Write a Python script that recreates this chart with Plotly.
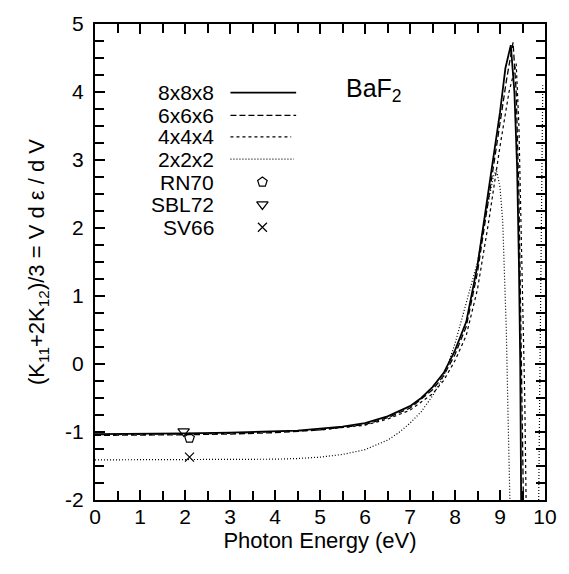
import plotly.graph_objects as go

# ---------------- data ----------------
x_888 = [0, 1, 2, 3, 4, 4.5, 5, 5.5, 6, 6.5, 7, 7.25, 7.5, 7.75, 8, 8.25, 8.5, 8.75, 9.0, 9.12, 9.24, 9.32, 9.38, 9.42, 9.45, 9.47]
y_888 = [-1.03, -1.03, -1.02, -1.01, -0.99, -0.98, -0.95, -0.92, -0.87, -0.77, -0.62, -0.5, -0.34, -0.13, 0.2, 0.62, 1.45, 2.6, 3.7, 4.35, 4.69, 4.0, 2.9, 1.5, 0.0, -2.0]

x_666 = [0, 1, 2, 3, 4, 5, 6, 6.5, 7, 7.5, 7.75, 8, 8.25, 8.5, 8.75, 9.0, 9.15, 9.29, 9.36, 9.42, 9.47, 9.52]
y_666 = [-1.05, -1.05, -1.04, -1.03, -1.01, -0.97, -0.89, -0.79, -0.65, -0.38, -0.17, 0.14, 0.55, 1.35, 2.45, 3.55, 4.2, 4.73, 4.0, 2.5, 0.5, -2.0]

x_444 = [0, 1, 2, 3, 4, 5, 6, 6.5, 7, 7.5, 7.75, 8, 8.25, 8.5, 8.75, 9.0, 9.2, 9.36, 9.42, 9.5, 9.55, 9.58]
y_444 = [-1.04, -1.04, -1.03, -1.02, -1.0, -0.97, -0.9, -0.81, -0.68, -0.44, -0.24, 0.05, 0.42, 1.1, 2.1, 3.2, 4.0, 4.42, 3.5, 1.0, -0.5, -2.0]

x_222 = [0, 1, 2, 3, 4, 4.5, 5, 5.5, 6, 6.5, 6.75, 7, 7.25, 7.5, 7.75, 8, 8.25, 8.5, 8.7, 8.85, 8.92, 9.0, 9.06, 9.1, 9.14, 9.18, 9.22,
         None, 9.86, 9.9, 9.95]
y_222 = [-1.41, -1.41, -1.41, -1.40, -1.40, -1.39, -1.37, -1.33, -1.26, -1.12, -1.01, -0.87, -0.70, -0.47, -0.18, 0.3, 0.9, 1.5, 2.25, 2.75, 2.86, 2.6, 2.1, 1.3, 0.5, -0.8, -2.0,
         None, -2.0, 1.0, 4.1]

rn70_x, rn70_y = [2.1], [-1.09]
sbl72_x, sbl72_y = [1.97], [-0.99]
sv66_x, sv66_y = [2.1], [-1.37]

series_names = ["8x8x8", "6x6x6", "4x4x4", "2x2x2", "RN70", "SBL72", "SV66"]
x_ticks = [0, 1, 2, 3, 4, 5, 6, 7, 8, 9, 10]
y_ticks = [-2, -1, 0, 1, 2, 3, 4, 5]
y_tick_labels = ["-2", "-1", "0", "1", "2", "3", "4", "5"]

# ---------------- figure ----------------
FONT = "Liberation Sans, Arial, Helvetica, sans-serif"
fig = go.Figure()

line_styles = [
    (x_888, y_888, "solid", 1.8),
    (x_666, y_666, "6px,3px", 1.3),
    (x_444, y_444, "3px,3px", 1.2),
    (x_222, y_222, "1px,2px", 1.2),
]
for (xs, ys, dash, w), name in zip(line_styles, series_names[:4]):
    fig.add_trace(go.Scatter(x=xs, y=ys, mode="lines", name=name,
                             line=dict(color="black", width=w, dash=dash),
                             showlegend=False, connectgaps=False))

markers = [
    (rn70_x, rn70_y, "pentagon-open", 10),
    (sbl72_x, sbl72_y, "triangle-down-open", 10),
    (sv66_x, sv66_y, "x-thin-open", 9),
]
for (xs, ys, sym, sz), name in zip(markers, series_names[4:]):
    fig.add_trace(go.Scatter(x=xs, y=ys, mode="markers", name=name,
                             marker=dict(symbol=sym, size=sz, color="black",
                                         line=dict(color="black", width=1.2)),
                             showlegend=False))

# ---------------- manual legend (gnuplot style: text left, sample right) ----------------
row_y = [0.856, 0.808, 0.763, 0.716, 0.668, 0.621, 0.573]
label_x = 0.268
line_x0 = [0.301, 0.301, 0.301, 0.301]
line_x1 = [0.447, 0.447, 0.436, 0.442]
marker_x = 0.372

for name, yy in zip(series_names, row_y):
    fig.add_annotation(x=label_x, y=yy, xref="paper", yref="paper", text=name,
                       showarrow=False, xanchor="right", yanchor="middle",
                       font=dict(family=FONT, size=21, color="black"))
for i, (xs, ys, dash, w) in enumerate(line_styles):
    fig.add_shape(type="line", xref="paper", yref="paper",
                  x0=line_x0[i], x1=line_x1[i], y0=row_y[i], y1=row_y[i],
                  line=dict(color="black", width=w, dash=dash))
for i, (xs, ys, sym, sz) in enumerate(markers):
    fig.add_trace(go.Scatter(x=[marker_x], y=[row_y[4 + i]], xaxis="x2", yaxis="y2",
                             mode="markers", showlegend=False, hoverinfo="skip",
                             marker=dict(symbol=sym, size=sz, color="black",
                                         line=dict(color="black", width=1.2))))

fig.add_annotation(x=0.553, y=0.862, xref="paper", yref="paper",
                   text="BaF<sub>2</sub>", showarrow=False, xanchor="left", yanchor="middle",
                   font=dict(family=FONT, size=25, color="black"))

axis_common = dict(showline=True, linecolor="black", linewidth=2, mirror="ticks",
                   ticks="inside", ticklen=10, tickwidth=1.5, tickcolor="black",
                   showgrid=False, zeroline=False,
                   tickfont=dict(family=FONT, size=21, color="black"))

fig.update_layout(
    width=569, height=574,
    margin=dict(l=95, r=22, t=15, b=74),
    paper_bgcolor="white", plot_bgcolor="white",
    font=dict(family=FONT, color="black"),
    xaxis=dict(range=[0, 10], tickmode="array", tickvals=x_ticks, ticklabelstandoff=-3,
               minor=dict(dtick=0.5, ticklen=9, ticks="inside", tickcolor="black", tickwidth=1.5),
               title=dict(text="Photon Energy (eV)", font=dict(family=FONT, size=22), standoff=0),
               **axis_common),
    yaxis=dict(range=[-2, 5], tickmode="array", tickvals=y_ticks, ticktext=y_tick_labels,
               ticklabelstandoff=5,
               minor=dict(dtick=0.25, ticklen=9, ticks="inside", tickcolor="black", tickwidth=1.5),
               title=dict(text="(K<sub>11</sub>+2K<sub>12</sub>)/3 = V d ε / d V",
                          font=dict(family=FONT, size=22), standoff=14),
               **axis_common),
    xaxis2=dict(range=[0, 1], overlaying="x", visible=False),
    yaxis2=dict(range=[0, 1], overlaying="y", visible=False, domain=[0, 1]),
)

fig.write_html("out.html")
